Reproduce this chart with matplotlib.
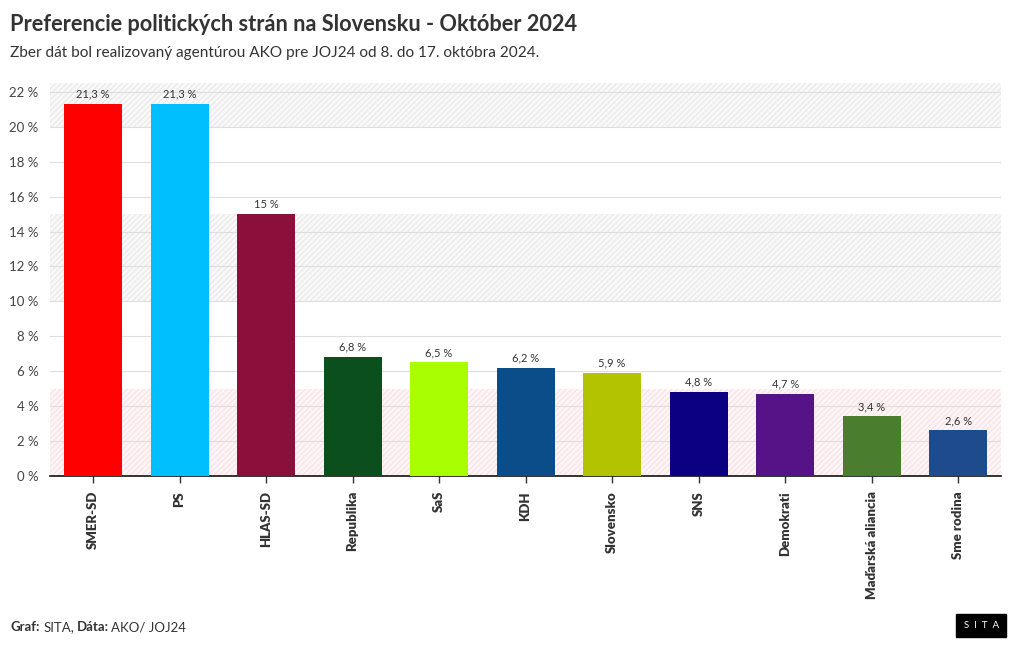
import matplotlib.pyplot as plt
import matplotlib as mpl

parties = ["SMER-SD", "PS", "HLAS-SD", "Republika", "SaS", "KDH", "Slovensko",
           "SNS", "Demokrati", "Maďarská aliancia", "Sme rodina"]
values = [21.3, 21.3, 15, 6.8, 6.5, 6.2, 5.9, 4.8, 4.7, 3.4, 2.6]
colors = ["#ff0000", "#00bfff", "#8a0f3a", "#0b4f1c", "#a8ff00", "#0a4d89",
          "#b3c300", "#0b0082", "#561387", "#4b7d2e", "#1d4b8b"]
yticks = [0, 2, 4, 6, 8, 10, 12, 14, 16, 18, 20, 22]

plt.rcParams['font.family'] = ['Lato', 'DejaVu Sans']
mpl.rcParams['hatch.linewidth'] = 0.6

fig = plt.figure(figsize=(10.2, 6.5), dpi=100)
ax = fig.add_axes([0.0488, 0.268, 0.933, 0.604])

# shaded bands
ax.axhspan(20, 22.5, facecolor='#f8f8f8', edgecolor='#e4e4e4', hatch='//////', lw=0, zorder=0)
ax.axhspan(10, 15, facecolor='#f8f8f8', edgecolor='#e4e4e4', hatch='//////', lw=0, zorder=0)
ax.axhspan(0, 5, facecolor='#fdf4f5', edgecolor='#f7dcdf', hatch='//////', lw=0, zorder=0)

x = range(len(parties))
ax.bar(x, values, width=0.67, color=colors, zorder=3)
for i, v in enumerate(values):
    lbl = (f"{v:g}").replace('.', ',') + " %"
    ax.text(i, v + 0.25, lbl, ha='center', va='bottom', fontsize=8, color='#333333', zorder=4)

ax.set_xlim(-0.5, len(parties) - 0.5)
ax.set_ylim(0, 22.5)
ax.set_yticks(yticks)
ax.set_yticklabels([f"{t} %" for t in yticks], fontsize=9.5, color='#444444')
ax.yaxis.grid(True, color='#dedede', lw=0.8, zorder=1)
ax.set_axisbelow(True)
ax.tick_params(axis='y', length=0, pad=8)
ax.set_xticks(list(x))
ax.set_xticklabels(parties, rotation=90, fontsize=9.5, fontweight='heavy', color='#333333')
ax.tick_params(axis='x', length=5, width=1, color='#333333', pad=6)
for s in ['top', 'right', 'left']:
    ax.spines[s].set_visible(False)
ax.spines['bottom'].set_color('#111111')
ax.spines['bottom'].set_linewidth(1.2)

fig.text(0.010, 0.962, "Preferencie politických strán na Slovensku - Október 2024",
         fontsize=15.7, fontweight='bold', color='#333333', va='center')
fig.text(0.010, 0.918, "Zber dát bol realizovaný agentúrou AKO pre JOJ24 od 8. do 17. októbra 2024.",
         fontsize=11.1, color='#333333', va='center')

fig.text(0.010, 0.035, "Graf:", fontsize=9.5, fontweight='bold', color='#333333', va='center')
fig.text(0.043, 0.035, "SITA,", fontsize=9.5, color='#333333', va='center')
fig.text(0.075, 0.035, "Dáta:", fontsize=9.5, fontweight='bold', color='#333333', va='center')
fig.text(0.109, 0.035, "AKO/ JOJ24", fontsize=9.5, color='#333333', va='center')

fig.text(0.962, 0.038, "S  I  T  A", fontsize=7, color='white', ha='center', va='center',
         bbox=dict(boxstyle='square,pad=0.75', facecolor='black', edgecolor='black'))

fig.savefig("out.png", dpi=100, facecolor='white')
